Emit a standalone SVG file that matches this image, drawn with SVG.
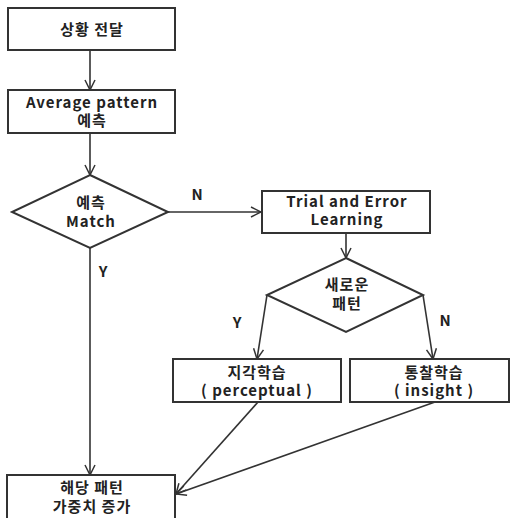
<svg xmlns="http://www.w3.org/2000/svg" width="512" height="518" viewBox="0 0 512 518">
<style>
.box{fill:#fff;stroke:#333;stroke-width:2}
.t{font-family:"Noto Sans CJK KR","Liberation Sans",sans-serif;font-size:15px;font-weight:bold;fill:#222;text-anchor:middle;letter-spacing:1px}
.l{font-family:"Noto Sans CJK KR","Liberation Sans",sans-serif;font-size:15px;font-weight:bold;fill:#222;text-anchor:middle}
.c{stroke:#333;stroke-width:1.6;fill:none;marker-end:url(#ah)}
</style>
<defs>
<marker id="ah" viewBox="0 0 12 12" refX="11" refY="6" markerWidth="12" markerHeight="12" markerUnits="userSpaceOnUse" orient="auto">
<path d="M1,1 L11,6 L1,11" fill="none" stroke="#333" stroke-width="1.5"/>
</marker>
</defs>
<rect width="512" height="518" fill="#fff"/>
<g id="connectors">
<line class="c" x1="90" y1="50" x2="90" y2="90"/>
<line class="c" x1="90" y1="133" x2="90" y2="175"/>
<line class="c" x1="168" y1="212" x2="261" y2="212"/>
<line class="c" x1="346" y1="233" x2="346" y2="258"/>
<line class="c" x1="267" y1="295" x2="257" y2="359"/>
<line class="c" x1="423" y1="295" x2="433" y2="359"/>
<line class="c" x1="90" y1="248" x2="90" y2="475"/>
<line class="c" x1="258" y1="402" x2="176" y2="494"/>
<line class="c" x1="435" y1="402" x2="176" y2="494"/>
</g>
<g id="labels" class="l">
<text x="197" y="200">N</text>
<text x="103" y="277">Y</text>
<text x="237" y="328">Y</text>
<text x="445" y="326">N</text>
</g>
<g id="n1"><rect class="box" x="8" y="8" width="167" height="42"/><text class="t" x="92" y="35">상황 전달</text></g>
<g id="n2"><rect class="box" x="8" y="90" width="167" height="43"/><text class="t" x="92" y="108">Average pattern</text><text class="t" x="92" y="126">예측</text></g>
<g id="d1"><polygon class="box" points="90,175 168,212 90,248 12,212"/><text class="t" x="91" y="208">예측</text><text class="t" x="91" y="227">Match</text></g>
<g id="n3"><rect class="box" x="262" y="191" width="168" height="42"/><text class="t" x="347" y="207">Trial and Error</text><text class="t" x="347" y="225">Learning</text></g>
<g id="d2"><polygon class="box" points="346,258 423,295 346,332 267,295"/><text class="t" x="347" y="290">새로운</text><text class="t" x="347" y="309">패턴</text></g>
<g id="n4"><rect class="box" x="173" y="359" width="168" height="43"/><text class="t" x="257" y="378">지각학습</text><text class="t" x="257" y="396">( perceptual )</text></g>
<g id="n5"><rect class="box" x="350" y="359" width="159" height="43"/><text class="t" x="434" y="378">통찰학습</text><text class="t" x="434" y="396">( insight )</text></g>
<g id="n6"><rect class="box" x="7" y="475" width="168" height="50"/><text class="t" x="92" y="493">해당 패턴</text><text class="t" x="92" y="512">가중치 증가</text></g>
</svg>
